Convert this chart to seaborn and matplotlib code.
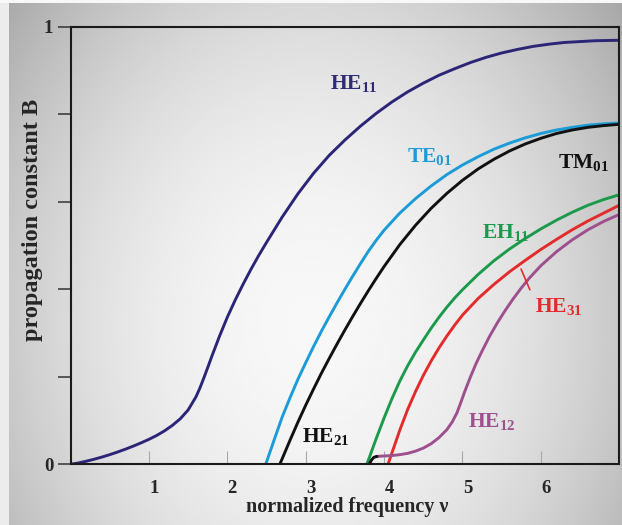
import numpy as np
import pandas as pd
import matplotlib
matplotlib.use("Agg")
import matplotlib.pyplot as plt
import matplotlib.transforms as mtransforms
import seaborn as sns

# ---------------- data ----------------
he11_x = [0.0, 0.1, 0.2, 0.3, 0.4, 0.5, 0.6, 0.7, 0.8, 0.9, 1.0, 1.1, 1.2, 1.3, 1.4, 1.5,
          1.6, 1.65, 1.7, 1.75, 1.8, 1.9, 2.0, 2.1, 2.2, 2.3, 2.4, 2.5, 2.7, 2.9, 3.1, 3.3,
          3.5, 3.7, 3.9, 4.1, 4.3, 4.5, 4.7, 4.9, 5.1, 5.3, 5.5, 5.7, 5.9, 6.1, 6.3, 6.5,
          6.7, 7.0]
he11_y = [0.000, 0.003, 0.007, 0.0115, 0.0165, 0.022, 0.028, 0.0345, 0.0415, 0.049, 0.057,
          0.066, 0.0765, 0.089, 0.104, 0.124, 0.154, 0.174, 0.197, 0.221, 0.2455, 0.2925,
          0.336, 0.375, 0.411, 0.445, 0.477, 0.507, 0.565, 0.618, 0.665, 0.706, 0.741, 0.773,
          0.802, 0.828, 0.851, 0.871, 0.889, 0.904, 0.918, 0.930, 0.940, 0.948, 0.955, 0.960,
          0.964, 0.966, 0.968, 0.969]

te01_x = [2.49, 2.6, 2.7, 2.8, 2.9, 3.0, 3.1, 3.2, 3.3, 3.4, 3.5, 3.6, 3.7, 3.8, 3.9, 4.0,
          4.2, 4.4, 4.6, 4.8, 5.0, 5.2, 5.4, 5.6, 5.8, 6.0, 6.2, 6.4, 6.6, 6.8, 7.0]
te01_y = [0.000, 0.057, 0.108, 0.152, 0.194, 0.232, 0.269, 0.304, 0.337, 0.369, 0.400, 0.430,
          0.459, 0.487, 0.512, 0.535, 0.574, 0.607, 0.636, 0.662, 0.684, 0.703, 0.720, 0.734,
          0.746, 0.756, 0.764, 0.770, 0.775, 0.778, 0.780]

tm01_x = [2.67, 2.8, 2.9, 3.0, 3.1, 3.2, 3.3, 3.4, 3.5, 3.6, 3.7, 3.8, 3.9, 4.0, 4.2, 4.4,
          4.6, 4.8, 5.0, 5.2, 5.4, 5.6, 5.8, 6.0, 6.2, 6.4, 6.6, 6.8, 7.0]
tm01_y = [0.000, 0.055, 0.096, 0.135, 0.172, 0.208, 0.242, 0.275, 0.307, 0.338, 0.368, 0.397,
          0.425, 0.452, 0.502, 0.546, 0.585, 0.619, 0.649, 0.675, 0.697, 0.716, 0.732, 0.745,
          0.756, 0.764, 0.770, 0.774, 0.777]

eh11_x = [3.78, 3.9, 4.0, 4.1, 4.2, 4.3, 4.4, 4.5, 4.6, 4.7, 4.8, 4.9, 5.0, 5.2, 5.4, 5.6,
          5.8, 6.0, 6.2, 6.4, 6.6, 6.8, 7.0]
eh11_y = [0.000, 0.059, 0.106, 0.150, 0.190, 0.225, 0.256, 0.284, 0.311, 0.336, 0.359, 0.380,
          0.399, 0.434, 0.465, 0.492, 0.516, 0.538, 0.558, 0.576, 0.592, 0.605, 0.616]

he31_x = [4.05, 4.1, 4.2, 4.3, 4.4, 4.5, 4.6, 4.7, 4.8, 4.9, 5.0, 5.2, 5.4, 5.6, 5.8, 6.0,
          6.2, 6.4, 6.6, 6.8, 7.0]
he31_y = [0.000, 0.026, 0.078, 0.125, 0.166, 0.203, 0.236, 0.266, 0.293, 0.318, 0.341, 0.379,
          0.411, 0.440, 0.466, 0.491, 0.514, 0.536, 0.556, 0.574, 0.592]

he12_x = [3.90, 4.00, 4.10, 4.20, 4.30, 4.40, 4.50, 4.60, 4.70, 4.80, 4.87, 4.93, 4.98, 5.03,
          5.10, 5.17, 5.25, 5.35, 5.45, 5.55, 5.65, 5.75, 5.85, 6.0, 6.2, 6.4, 6.6, 6.8, 7.0]
he12_y = [0.018, 0.019, 0.020, 0.022, 0.025, 0.030, 0.037, 0.047, 0.061, 0.079, 0.097, 0.118,
          0.142, 0.167, 0.199, 0.229, 0.259, 0.294, 0.325, 0.353, 0.379, 0.403, 0.425, 0.454,
          0.486, 0.513, 0.536, 0.555, 0.571]

hook_x = [3.81, 3.84, 3.87, 3.91]
hook_y = [0.000, 0.010, 0.016, 0.018]

x_ticks = [1, 2, 3, 4, 5, 6]
x_ticklabels = ["1", "2", "3", "4", "5", "6"]
y_ticks = [0, 0.2, 0.4, 0.6, 0.8, 1.0]
y_ticklabels = ["0", "", "", "", "", "1"]

# ---------------- styling ----------------
colors = {
    "HE11": "#2b2577",
    "TE01": "#1b9bd7",
    "TM01": "#111111",
    "EH11": "#1c9a4c",
    "HE31": "#e32b2b",
    "HE12": "#9e4f8e",
    "hook": "#111111",
}

sns.set_style("white")
plt.rcParams["font.family"] = ["Liberation Serif", "DejaVu Serif"]
plt.rcParams["font.weight"] = "bold"
plt.rcParams["mathtext.fontset"] = "custom"
plt.rcParams["mathtext.rm"] = "Liberation Serif:bold"
plt.rcParams["mathtext.bf"] = "Liberation Serif:bold"
plt.rcParams["mathtext.it"] = "Liberation Serif:bold"

series = [("HE11", he11_x, he11_y), ("TE01", te01_x, te01_y), ("TM01", tm01_x, tm01_y),
          ("EH11", eh11_x, eh11_y), ("HE31", he31_x, he31_y), ("HE12", he12_x, he12_y),
          ("hook", hook_x, hook_y)]
frames = [pd.DataFrame({"v": xs, "B": ys, "mode": name}) for name, xs, ys in series]
df = pd.concat(frames, ignore_index=True)

W, H = 622, 525
fig = plt.figure(figsize=(W / 100, H / 100), dpi=100)

# background gradient
bg = fig.add_axes([0, 0, 1, 1], zorder=-10)
u = np.linspace(0, 1, 311)
v = np.linspace(0, 1, 263)
U, V = np.meshgrid(u, v)
r2 = ((U - 0.5) / 0.6) ** 2 + ((V - 0.62) / 0.9) ** 2
img = np.clip(0.97 - 0.27 * r2, 0, 1)
bg.imshow(img, cmap="gray", vmin=0, vmax=1, extent=[0, 1, 1, 0], aspect="auto", interpolation="bilinear")
bg.add_patch(plt.Rectangle((0, 0), 9 / W, 1, color="#ececec", lw=0))
bg.add_patch(plt.Rectangle((0, 0), 1, 3 / H, color="#f8f8f8", lw=0))
bg.set_xlim(0, 1)
bg.set_ylim(1, 0)
bg.axis("off")

left, right, top, bottom = 70.5, 619.3, 26.7, 464.3
ax = fig.add_axes([left / W, 1 - bottom / H, (right - left) / W, (bottom - top) / H])
ax.patch.set_alpha(0)

for name, _, _ in series:
    sub = df[df["mode"] == name]
    sns.lineplot(data=sub, x="v", y="B", ax=ax, color=colors[name], lw=2.1,
                 sort=False, estimator=None, legend=False)
for ln in ax.get_lines():
    ln.set_solid_joinstyle("round")
    ln.set_solid_capstyle("round")

ax.set_xlim(0, 7)
ax.set_ylim(0, 1)

for s in ax.spines.values():
    s.set_color("#1a1a1a")
    s.set_linewidth(1.5)
    s.set_visible(True)

ax.set_xticks(x_ticks)
ax.set_xticklabels(x_ticklabels)
ax.set_yticks(y_ticks)
ax.set_yticklabels(y_ticklabels)
ax.tick_params(axis="x", direction="in", length=9.5, width=0.8, color="#a8a8a8",
               pad=11, labelsize=13.5, bottom=True)
ax.tick_params(axis="y", direction="out", length=9.5, width=1.1, color="#333333",
               pad=3, labelsize=13.5, left=True)
offset = mtransforms.ScaledTranslation(5 / 100, 0, fig.dpi_scale_trans)
for lab in ax.get_xticklabels():
    lab.set_transform(lab.get_transform() + offset)
    lab.set_fontweight("bold")
for lab in ax.get_yticklabels():
    lab.set_fontweight("bold")

ax.set_xlabel("normalized frequency ν", fontsize=14.5, fontweight="bold")
ax.xaxis.set_label_coords(0.505, -0.074)
ax.xaxis.label.set_va("top")
ax.set_ylabel("propagation constant B", fontsize=17.5, fontweight="bold")
ax.yaxis.set_label_coords(-0.05, 0.558)

lab_fs = 15.5
ax.text(3.31, 0.857, r"HE$_{11}$", color="#2e2a78", fontsize=lab_fs, fontweight="bold", va="baseline")
ax.text(4.29, 0.6915, r"TE$_{01}$", color=colors["TE01"], fontsize=lab_fs, fontweight="bold", va="baseline")
ax.text(6.22, 0.676, r"TM$_{01}$", color="#111111", fontsize=lab_fs, fontweight="bold", va="baseline")
ax.text(5.245, 0.516, r"EH$_{11}$", color=colors["EH11"], fontsize=lab_fs, fontweight="bold", va="baseline")
ax.text(5.925, 0.349, r"HE$_{31}$", color=colors["HE31"], fontsize=lab_fs, fontweight="bold", va="baseline")
ax.text(5.07, 0.086, r"HE$_{12}$", color=colors["HE12"], fontsize=lab_fs, fontweight="bold", va="baseline")
ax.text(2.95, 0.052, r"HE$_{21}$", color="#111111", fontsize=lab_fs, fontweight="bold", va="baseline")
ax.annotate("", xy=(5.733, 0.452), xytext=(5.873, 0.393),
            arrowprops=dict(arrowstyle="-", color=colors["HE31"], lw=1.2))

fig.savefig("out.png", dpi=100)
